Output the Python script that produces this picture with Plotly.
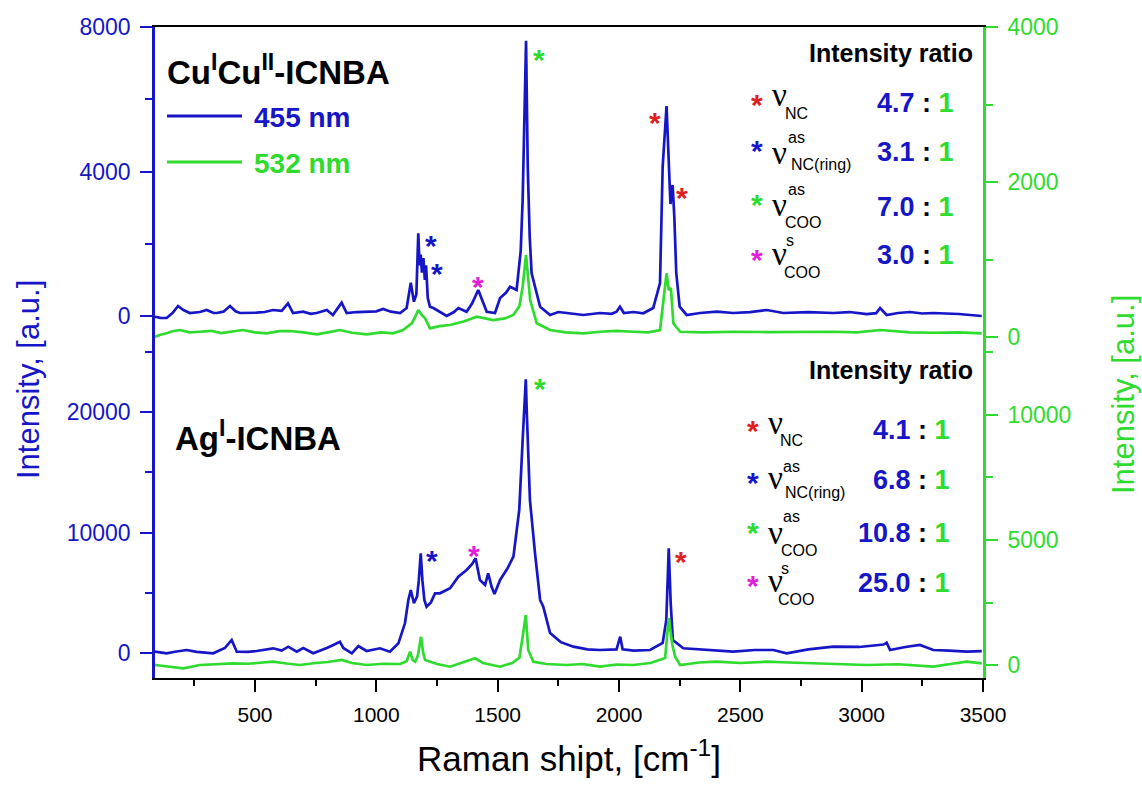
import plotly.graph_objects as go

# ---------------- data ----------------
raman_ticks = [500, 1000, 1500, 2000, 2500, 3000, 3500]
raman_minor = [250, 750, 1250, 1750, 2250, 2750, 3250]

# Cu(I)Cu(II)-ICNBA, 455 nm (left axis, top)
cu_455_x = [88, 110, 136, 160, 183, 205, 232, 273, 301, 330, 342, 370, 397, 420, 438, 470, 507, 540, 574, 610,
            636, 657, 698, 730, 754, 796, 821, 857, 878, 920, 960, 1000, 1028, 1060, 1098, 1125, 1142, 1155, 1165,
            1173, 1178, 1183, 1188, 1194, 1200, 1205, 1212, 1221, 1235, 1260, 1290, 1320, 1338, 1372, 1395, 1420,
            1440, 1455, 1489, 1510, 1535, 1551, 1578, 1595, 1603, 1613, 1617, 1624, 1632, 1640, 1675, 1716, 1750,
            1785, 1820, 1853, 1922, 1970, 1990, 2004, 2020, 2060, 2100, 2141, 2169, 2180, 2196, 2205, 2212, 2221,
            2228, 2236, 2250, 2279, 2334, 2403, 2471, 2540, 2609, 2677, 2780, 2883, 2950, 3021, 3060, 3076, 3103,
            3150, 3199, 3250, 3295, 3400, 3495]
cu_455_y = [-20, -50, -55, 80, 277, 166, 83, 110, 166, 83, 83, 120, 277, 130, 83, 83, 91, 110, 166, 140,
            350, 83, 119, 60, 83, 166, 28, 368, 83, 110, 119, 130, 194, 120, 83, 221, 922, 396, 600,
            2290, 1400, 1700, 1200, 1600, 1000, 1400, 500, 257, 221, 110, 0, 110, 221, 119, 350, 720,
            350, 119, 83, 498, 650, 811, 720, 1800, 3211, 6900, 7620, 4133, 2200, 1182, 257, 28, 110,
            83, 60, 28, 83, 60, 120, 257, 83, 110, 75, 221, 913, 4133, 5813, 4318, 3100, 3626,
            2749, 1190, 257, 28, 83, 119, 83, 110, 166, 83, 110, 83, 110, 55, 80, 221, 28,
            83, 111, 70, 83, 55, 0]

# Cu(I)Cu(II)-ICNBA, 532 nm (right axis, top)
cu_532_x = [88, 110, 136, 160, 191, 230, 273, 320, 360, 409, 450, 500, 548, 600, 644, 700, 754, 800, 850, 900,
            960, 1020, 1069, 1110, 1146, 1160, 1173, 1187, 1201, 1221, 1260, 1304, 1360, 1414, 1450, 1482, 1530,
            1565, 1590, 1603, 1617, 1624, 1634, 1661, 1716, 1780, 1853, 1922, 1990, 2058, 2120, 2169, 2183, 2196,
            2205, 2214, 2224, 2252, 2350, 2471, 2609, 2750, 2883, 2980, 3076, 3200, 3295, 3400, 3495]
cu_532_y = [4, 30, 48, 75, 90, 60, 68, 80, 50, 68, 90, 60, 48, 75, 77, 60, 35, 60, 90, 55,
            35, 60, 48, 90, 177, 260, 348, 284, 241, 112, 140, 155, 200, 262, 240, 219, 240,
            284, 400, 649, 1058, 800, 477, 177, 90, 60, 48, 68, 80, 68, 60, 90, 477, 822,
            606, 632, 177, 68, 60, 68, 64, 70, 68, 60, 90, 60, 55, 60, 48]

# Ag(I)-ICNBA, 455 nm (left axis, bottom)
ag_455_x = [88, 110, 136, 170, 219, 260, 300, 328, 376, 404, 425, 470, 507, 540, 575, 610, 637, 672, 699, 740,
            770, 796, 823, 850, 864, 899, 926, 960, 1015, 1056, 1091, 1118, 1132, 1142, 1155, 1168, 1175, 1183,
            1190, 1198, 1207, 1225, 1242, 1262, 1304, 1338, 1372, 1395, 1409, 1427, 1448, 1461, 1475, 1487, 1510,
            1540, 1565, 1589, 1603, 1612, 1616, 1620, 1626, 1633, 1654, 1675, 1688, 1716, 1760, 1812, 1870, 1922,
            1990, 2005, 2015, 2060, 2128, 2180, 2195, 2205, 2213, 2222, 2265, 2350, 2471, 2560, 2636, 2691, 2780,
            2883, 2990, 3090, 3103, 3117, 3180, 3240, 3295, 3360, 3433, 3495]
ag_455_y = [108, 50, -25, 100, 249, 100, 50, -25, 415, 1079, 108, 100, 166, 250, 390, 200, 523, 108, 415, -25,
            200, 415, 664, 938, 415, -25, 581, 166, 390, 108, 805, 2465, 4399, 5229, 4125, 4700, 6000, 8275,
            6000, 4400, 3843, 4200, 4955, 4955, 5370, 6333, 6889, 7400, 7860, 6059, 5644, 6615, 5500, 4900, 6059,
            7000, 7993, 11869, 17679, 21500, 22717, 20000, 16000, 12699, 8275, 4399, 3843, 1660, 900, 523, 300, 249,
            300, 1353, 307, 200, 249, 830, 2739, 8690, 4150, 1079, 390, 250, 108, 250, 249, -25, 300,
            523, 500, 700, 855, 249, 500, 664, 249, 200, 108, 150]

# Ag(I)-ICNBA, 532 nm (right axis, bottom)
ag_532_x = [88, 140, 205, 273, 330, 383, 411, 470, 520, 575, 630, 685, 750, 800, 857, 900, 960, 1030, 1098, 1125,
            1139, 1150, 1160, 1172, 1184, 1193, 1201, 1250, 1304, 1360, 1407, 1440, 1510, 1560, 1590, 1601, 1616,
            1626, 1647, 1700, 1785, 1850, 1922, 1990, 2059, 2130, 2190, 2205, 2220, 2232, 2252, 2330, 2403, 2500,
            2609, 2700, 2815, 2920, 3021, 3150, 3295, 3380, 3433, 3495]
ag_532_y = [0, -60, -132, 0, 20, 40, 68, 50, 100, 132, 60, 0, 80, 120, 200, 80, 0, 50, 40, 150,
            532, 200, 132, 400, 1132, 500, 200, 40, -68, 100, 268, 80, -68, 80, 300, 1000, 2000,
            600, 132, 40, 0, 40, -68, 20, 0, 80, 280, 1880, 800, 320, 0, 100, 132, 80,
            132, 100, 68, 40, 0, 30, -68, 60, 132, 68]

# peak markers (asterisks): x, y, colour key
top_marks = [(1224, 2151, "blue"), (1249, 1365, "blue"), (1420, 1016, "magenta"),
             (1672, 7288, "green"), (2148, 5564, "red"), (2258, 3468, "red")]
bot_marks = [(1228, 8275, "blue"), (1404, 8690, "magenta"), (1675, 22518, "green"), (2254, 8134, "red")]

top_ratios = ["4.7", "3.1", "7.0", "3.0"]
bot_ratios = ["4.1", "6.8", "10.8", "25.0"]

# ---------------- style ----------------
BLUE = "#1616C6"
GREEN = "#2EDB2E"
RED = "#E02020"
MAG = "#E020D8"
COL = {"blue": BLUE, "green": GREEN, "red": RED, "magenta": MAG}
FONT = "Liberation Sans, Arial, sans-serif"
SERIF = "Liberation Serif, Times New Roman, serif"

L, R, T, B = 155, 159, 27, 110
W, H = 1142, 788
PW, PH = W - L - R, H - T - B


def P(px, py):
    return (px - L) / PW, (H - B - py) / PH


fig = go.Figure()
fig.add_trace(go.Scatter(x=cu_455_x, y=cu_455_y, mode="lines", line=dict(color=BLUE, width=2.7),
                         xaxis="x2", yaxis="y", name="455 nm", showlegend=False))
fig.add_trace(go.Scatter(x=cu_532_x, y=cu_532_y, mode="lines", line=dict(color=GREEN, width=2.7),
                         xaxis="x2", yaxis="y2", name="532 nm", showlegend=False))
fig.add_trace(go.Scatter(x=ag_455_x, y=ag_455_y, mode="lines", line=dict(color=BLUE, width=2.7),
                         xaxis="x", yaxis="y3", name="455 nm", showlegend=False))
fig.add_trace(go.Scatter(x=ag_532_x, y=ag_532_y, mode="lines", line=dict(color=GREEN, width=2.7),
                         xaxis="x", yaxis="y4", name="532 nm", showlegend=False))

XR = [88, 3500]
SPLIT = 0.51


def yax(color, rng, vals, minor, domain=None, side="left", overlay=None, anchor="x"):
    d = dict(range=rng, tickvals=vals, ticktext=[str(v) for v in vals], ticks="outside", ticklen=12,
             tickwidth=2, tickcolor=color, showline=True, linecolor=color, linewidth=2.6,
             tickfont=dict(color=color, size=23, family=FONT), showgrid=False, zeroline=False,
             side=side, anchor=anchor, ticklabelstandoff=5,
             minor=dict(tickvals=minor, ticks="outside", ticklen=7, tickwidth=2, tickcolor=color))
    if domain is not None:
        d["domain"] = domain
    if overlay is not None:
        d["overlaying"] = overlay
    return d


fig.update_layout(
    width=W, height=H, margin=dict(l=L, r=R, t=T, b=B),
    paper_bgcolor="white", plot_bgcolor="white", showlegend=False,
    xaxis=dict(domain=[0, 1], anchor="y3", range=XR, tickvals=raman_ticks, ticks="outside", ticklen=12,
               tickwidth=2, tickcolor="black", showline=True, linecolor="black", linewidth=2,
               tickfont=dict(color="black", size=21, family=FONT), showgrid=False, zeroline=False,
               ticklabelstandoff=5,
               minor=dict(tickvals=raman_minor, ticks="outside", ticklen=6, tickwidth=2, tickcolor="black"),
               title=dict(text="Raman shipt, [cm<sup>-1</sup>]", font=dict(size=35, color="black", family=FONT),
                          standoff=21)),
    xaxis2=dict(domain=[0, 1], anchor="y", range=XR, side="top", showline=True, linecolor="black",
                linewidth=2, showticklabels=False, ticks="", showgrid=False, zeroline=False),
    yaxis=yax(BLUE, [-830, 8000], [0, 4000, 8000], [2000, 6000], domain=[SPLIT, 1], anchor="x2"),
    yaxis2=yax(GREEN, [-116, 4000], [0, 2000, 4000], [1000, 3000], side="right", overlay="y", anchor="x2"),
    yaxis3=yax(BLUE, [-2075, 25480], [0, 10000, 20000], [5000, 15000, 25000], domain=[0, SPLIT]),
    yaxis4=yax(GREEN, [-520, 12760], [0, 5000, 10000], [2500, 7500, 12500], side="right", overlay="y3"),
)

ann = []


def txt(px, py, text, size, color="black", bold=False, xanchor="center", angle=0, yshift=0, family=FONT):
    x, y = P(px, py)
    ann.append(dict(x=x, y=y, xref="paper", yref="paper", text=("<b>%s</b>" % text) if bold else text,
                    showarrow=False, xanchor=xanchor, yanchor="middle", textangle=angle, yshift=yshift,
                    font=dict(size=size, color=color, family=family)))


# axis titles spanning both panels
txt(28, 380, "Intensity, [a.u.]", 31, BLUE, angle=-90)
txt(1123, 395, "Intensity, [a.u.]", 31, GREEN, angle=-90)

# panel titles and legend
txt(165, 70, "Cu<sup>I</sup>Cu<sup>II</sup>-ICNBA", 33, "black", True, "left")
txt(252, 118, "455 nm", 28, BLUE, True, "left")
txt(252, 163, "532 nm", 28, GREEN, True, "left")
txt(173, 436, "Ag<sup>I</sup>-ICNBA", 33, "black", True, "left")

shapes = []
for py, c in [(116, BLUE), (162, GREEN)]:
    x0, y0 = P(167, py)
    x1, _ = P(242, py)
    shapes.append(dict(type="line", xref="paper", yref="paper", x0=x0, x1=x1, y0=y0, y1=y0,
                       line=dict(color=c, width=3)))

STAR = 30
SSH = -7


def table(top, ratios, dx, rows):
    txt(975, top, "Intensity ratio", 25, "black", True, "right")
    colors = [RED, BLUE, GREEN, MAG]
    for (sy, ny, sup, sub, supy, suby, supx, subx, ry), r, c in zip(rows, ratios, colors):
        txt(757 + dx, sy, "*", STAR, c, True, yshift=SSH)
        txt(779 + dx, ny, "\u03bd", 33, "black", family=SERIF)
        if sup:
            txt(supx + dx, supy, sup, 16, "black")
        txt(subx + dx, suby, sub, 16, "black")
        txt(956 + dx, ry, "<span style='color:%s'>%s</span> : <span style='color:%s'>1</span>" % (BLUE, r, GREEN),
            27, "black", True, "right")


table(53, top_ratios, 0, [
    (97, 95, "", "NC", 0, 114, 0, 796, 103),
    (143, 153, "as", "NC(ring)", 137, 164, 796, 821, 152),
    (198, 205, "as", "COO", 189, 223, 796, 803, 207),
    (252, 254, "s", "COO", 240, 272, 790, 802, 255),
])
table(370, bot_ratios, -4, [
    (423, 423, "", "NC", 0, 440, 0, 795, 430),
    (475, 478, "as", "NC(ring)", 466, 493, 795, 819, 480),
    (525, 533, "as", "COO", 516, 550, 795, 803, 533),
    (578, 581, "s", "COO", 568, 599, 789, 800, 583),
])

for x, y, c in top_marks:
    ann.append(dict(x=x, y=y, xref="x2", yref="y", text="<b>*</b>", showarrow=False, yshift=SSH,
                    font=dict(size=STAR, color=COL[c], family=FONT)))
for x, y, c in bot_marks:
    ann.append(dict(x=x, y=y, xref="x", yref="y3", text="<b>*</b>", showarrow=False, yshift=SSH,
                    font=dict(size=STAR, color=COL[c], family=FONT)))

fig.update_layout(annotations=ann, shapes=shapes)
fig.write_html("out.html")
